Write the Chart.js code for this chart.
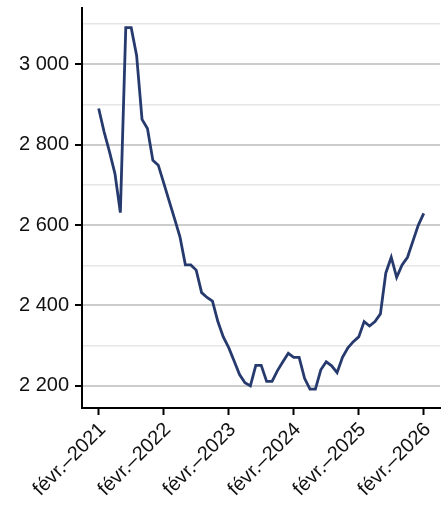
<!DOCTYPE html>
<html>
<head>
<meta charset="utf-8">
<script src="https://cdn.jsdelivr.net/npm/chart.js@4/dist/chart.umd.min.js"></script>
<style>
  body { margin: 0; background: #fff; }
  #wrap { width: 446px; height: 508px; }
</style>
</head>
<body>
<div id="wrap"><canvas id="c"></canvas></div>
<script>
// monthly series, feb 2021 -> feb 2026
const months = [
  '2021-02','2021-03','2021-04','2021-05','2021-06','2021-07','2021-08','2021-09','2021-10','2021-11','2021-12',
  '2022-01','2022-02','2022-03','2022-04','2022-05','2022-06','2022-07','2022-08','2022-09','2022-10','2022-11','2022-12',
  '2023-01','2023-02','2023-03','2023-04','2023-05','2023-06','2023-07','2023-08','2023-09','2023-10','2023-11','2023-12',
  '2024-01','2024-02','2024-03','2024-04','2024-05','2024-06','2024-07','2024-08','2024-09','2024-10','2024-11','2024-12',
  '2025-01','2025-02','2025-03','2025-04','2025-05','2025-06','2025-07','2025-08','2025-09','2025-10','2025-11','2025-12',
  '2026-01','2026-02'
];
const values = [
  2890, 2832, 2782, 2728, 2631, 3091, 3091, 3022, 2863, 2840, 2761,
  2749, 2705, 2660, 2616, 2571, 2501, 2501, 2488, 2432, 2420, 2411, 2360,
  2322, 2295, 2262, 2228, 2208, 2200, 2251, 2251, 2211, 2211, 2238, 2260,
  2281, 2271, 2271, 2219, 2192, 2192, 2240, 2260, 2250, 2233, 2271, 2295,
  2310, 2322, 2360, 2349, 2360, 2379, 2481, 2520, 2470, 2501, 2520, 2560,
  2600, 2629
];
const xTickMonths = ['2021-02','2022-02','2023-02','2024-02','2025-02','2026-02'];
const xTickLabels = ['févr.–2021','févr.–2022','févr.–2023','févr.–2024','févr.–2025','févr.–2026'];
const yTicks = [2200, 2300, 2400, 2500, 2600, 2700, 2800, 2900, 3000, 3100];
const yLabelled = [2200, 2400, 2600, 2800, 3000];

const points = values.map((v, i) => ({x: i, y: v}));
const xTickIdx = xTickMonths.map(m => months.indexOf(m));

function fmt(v){
  return String(v).replace(/\B(?=(\d{3})+(?!\d))/g, ' ');
}

new Chart(document.getElementById('c'), {
  type: 'line',
  data: {
    datasets: [{
      data: points,
      borderColor: '#263a6e',
      borderWidth: 2.8,
      pointRadius: 0,
      tension: 0,
      fill: false
    }]
  },
  options: {
    responsive: true,
    maintainAspectRatio: false,
    animation: false,
    layout: { padding: { top: 8, right: 6, left: 0, bottom: 0 } },
    plugins: { legend: { display: false }, tooltip: { enabled: false } },
    scales: {
      x: {
        type: 'linear',
        min: -3.08,
        max: 63.0,
        afterBuildTicks: s => { s.ticks = xTickIdx.map(v => ({value: v})); },
        afterFit: s => { s.height = 100; s.paddingLeft = 0; s.paddingRight = 0; },
        ticks: {
          autoSkip: false,
          maxRotation: 45,
          minRotation: 45,
          padding: 3,
          labelOffset: 4,
          color: '#111',
          font: { family: 'Liberation Sans, Arial, sans-serif', size: 20 },
          callback: v => xTickLabels[xTickIdx.indexOf(v)]
        },
        grid: { drawOnChartArea: false, drawTicks: true, tickLength: 7, tickColor: '#000', tickWidth: 2 },
        border: { display: true, color: '#000', width: 2 }
      },
      y: {
        min: 2145,
        max: 3140,
        afterBuildTicks: s => { s.ticks = yTicks.map(v => ({value: v})); },
        afterFit: s => { s.width = 82; s.paddingTop = 0; s.paddingBottom = 0; },
        ticks: {
          padding: 6,
          color: '#111',
          font: { family: 'Liberation Sans, Arial, sans-serif', size: 20 },
          callback: v => yLabelled.includes(v) ? fmt(v) : ''
        },
        grid: {
          color: c => (c.tick && yLabelled.includes(c.tick.value)) ? '#cccccc' : '#e6e6e6',
          lineWidth: c => (c.tick && yLabelled.includes(c.tick.value)) ? 2 : 1.5,
          tickColor: c => (c.tick && yLabelled.includes(c.tick.value)) ? '#000' : 'rgba(0,0,0,0)',
          tickWidth: 2,
          tickLength: 7
        },
        border: { display: true, color: '#000', width: 2 }
      }
    }
  }
});
</script>
</body>
</html>
